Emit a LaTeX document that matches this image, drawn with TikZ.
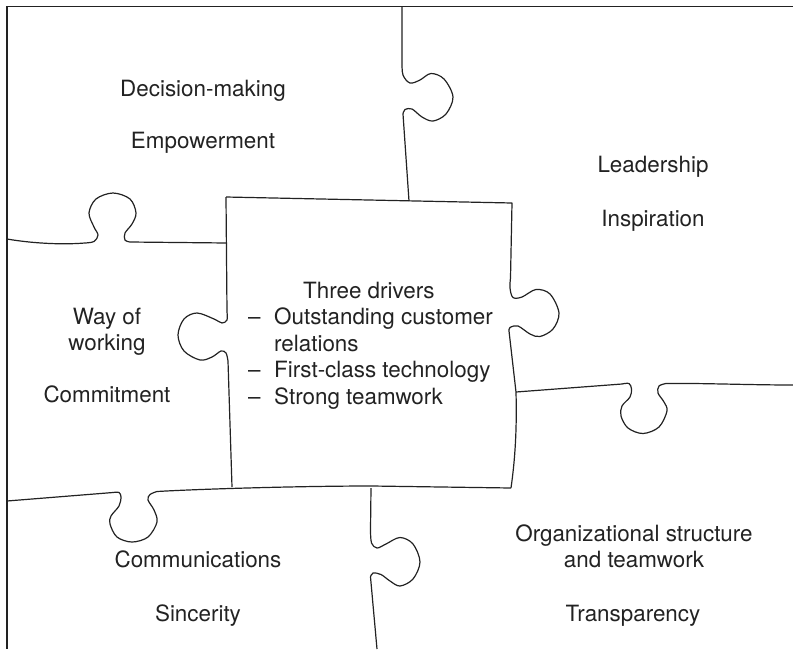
\documentclass[tikz,border=0pt]{standalone}
\usepackage{fontspec}
\setmainfont{TeX Gyre Heros}
\definecolor{ink}{HTML}{222222}
\tikzset{
  frame/.style={draw=ink,line width=1.5pt},
  cut/.style={draw=ink,line width=1.2pt,line join=round},
  lab/.style={text=ink,font=\fontsize{22.4}{26.5}\selectfont,anchor=base,inner sep=0pt,align=center},
  tabcurve/.style={smooth,tension=0.55}
}
\begin{document}
\begin{tikzpicture}[x=1pt,y=-1pt]
\useasboundingbox (0,0) rectangle (793,649);
% outer frame
\draw[frame] (793,6.5) -- (7,6.5) -- (7,649);
% centre piece: top and right
\draw[cut] (226,197) -- (512,203) -- (510.5,278)
  plot[tabcurve] coordinates {(510.5,278) (510,288) (513,297.5) (522,297) (536,289.5) (550,294) (559,313) (553,329) (540,336.5) (530,334) (518,326) (510,327.5) (509,331)}
  -- (516,392) .. controls (517,430) and (515,460) .. (511,488);
% centre piece: left
\draw[cut] (226,197) -- (227,312)
  plot[tabcurve] coordinates {(227,312) (227,320) (222,323) (214,319) (197,313) (184,319) (178,335) (184,351) (200,360) (212,357) (221,351) (226,353) (228,361)}
  -- (232,487);
% bottom line
\draw[cut] (7,501) -- (113,492.5)
  plot[tabcurve] coordinates {(113,492.5) (119,492.5) (121,497) (119,506) (111,516) (110,524) (117,537) (132,542) (148,537) (157,522) (154,510) (148,500) (150,494.5) (157,491.5)}
  .. controls (200,489) and (300,486) .. (372,486) -- (511,488);
% bottom vertical
\draw[cut] (371,488) -- (370.5,530)
  plot[tabcurve] coordinates {(370.5,530) (371.5,543) (377,548) (386,544) (400,537.5) (413,544) (420,562) (413,579) (400,586) (390,581) (381,574.5) (373,573) (370.5,577)}
  -- (377,649);
% top vertical
\draw[cut] (402,7) -- (402,62)
  plot[tabcurve] coordinates {(402,62) (403,75) (410,83) (420,80) (431,73.5) (444,79) (453,97) (446,114) (433,121) (422,117) (412,109) (405,109.5) (403,114)}
  -- (409,201);
% left top line
\draw[cut] (7,239) .. controls (30,243) and (60,245) .. (85,243)
  plot[tabcurve] coordinates {(85,243) (94,241.5) (98,235) (94,227) (89,213) (96,199) (113,193) (130,199) (136,213) (132,224) (125,233) (125,240) (130,242)}
  -- (227,243);
% right line
\draw[cut] (516,392) -- (622,384)
  plot[tabcurve] coordinates {(622,384) (629,383.5) (631.5,389) (630,397) (622,406) (621,416) (628,428) (643,433.5) (659,427) (667,411) (664,402) (658,393) (659,386) (666,383.5)}
  .. controls (700,383) and (750,385) .. (793,385);
% labels
\node[lab] (dec) at (203,96) {Decision-making};
\node[lab] (emp) at (203,148) {Empowerment};
\node[lab] (lead) at (653,172) {Leadership};
\node[lab] (insp) at (653,226) {Inspiration};
\node[lab] (way) at (107,324) {Way of};
\node[lab] (wrk) at (107,350) {working};
\node[lab] (com) at (107,402) {Commitment};
\node[lab] (comm) at (198,567) {Communications};
\node[lab] (sinc) at (198,621) {Sincerity};
\node[lab] (org) at (634,541) {Organizational structure};
\node[lab] (team) at (634,567) {and teamwork};
\node[lab] (tran) at (633,621) {Transparency};
\node[lab,anchor=base west,align=left] (drv) at (248,404)
 {\hspace*{55pt}Three drivers\\
  \makebox[26pt][l]{–}Outstanding customer\\
  \hspace*{26pt}relations\\
  \makebox[26pt][l]{–}First-class technology\\
  \makebox[26pt][l]{–}Strong teamwork};
\end{tikzpicture}
\end{document}
